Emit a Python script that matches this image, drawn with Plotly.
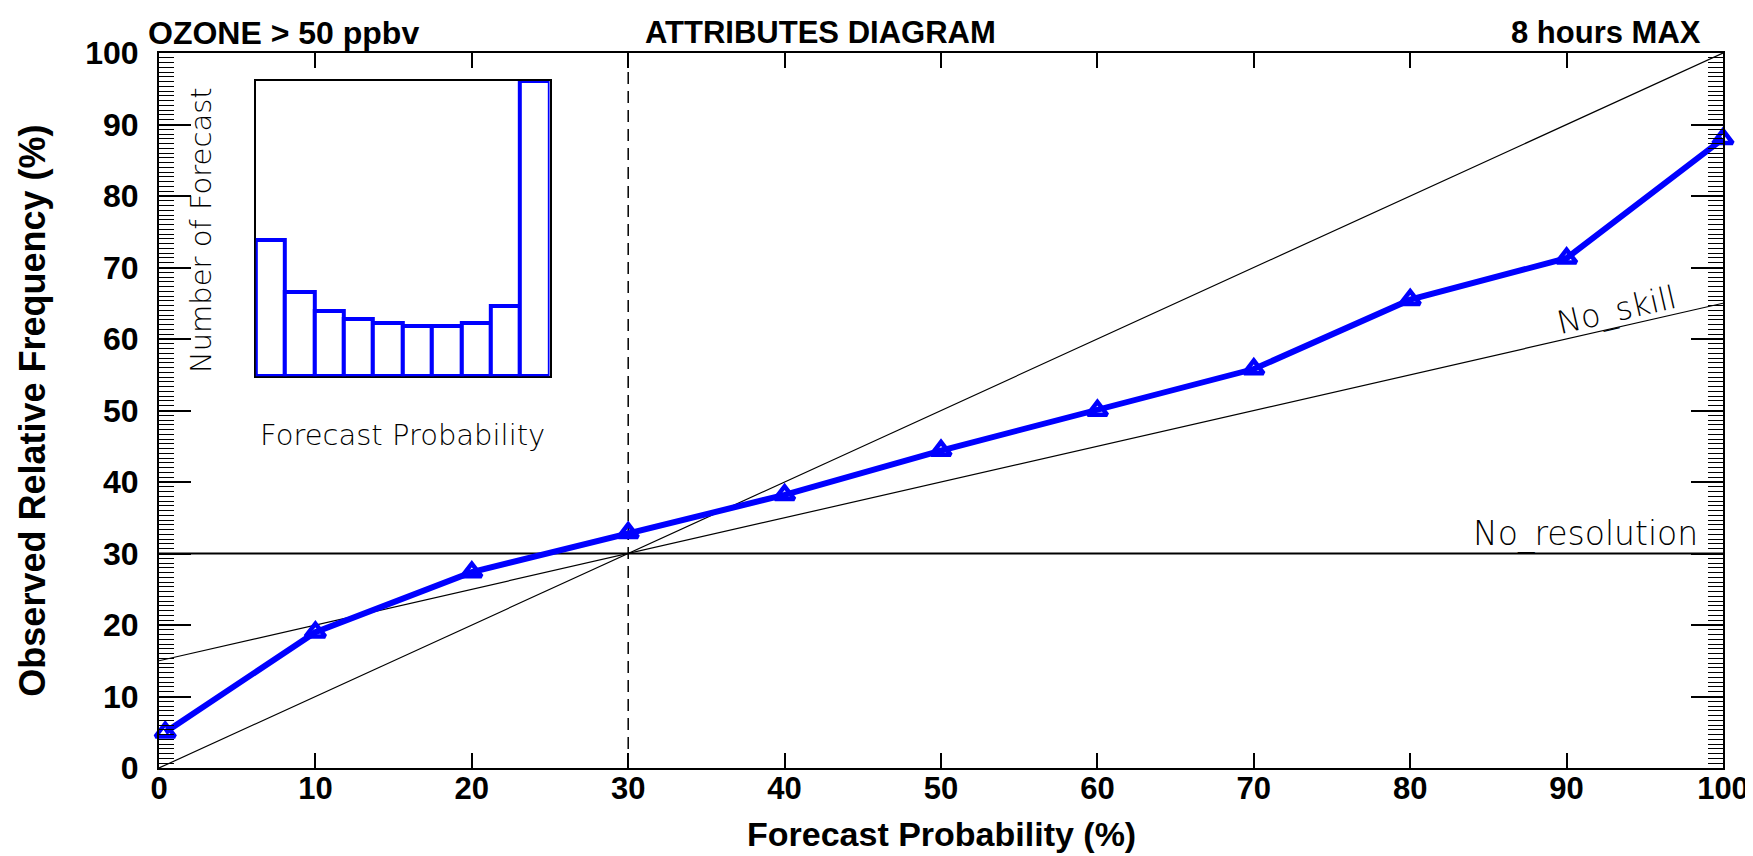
import plotly.graph_objects as go

# ---------------- data ----------------
fcst_prob = [0.4, 10, 20, 30, 40, 50, 60, 70, 80, 90, 100]
obs_freq = [5.0, 19.0, 27.4, 32.9, 38.2, 44.4, 50.0, 55.8, 65.5, 71.3, 88.0]

climatology = 30.0          # no-resolution level (%)
line_x = [0, 100]           # extent of reference lines

hist_bins = [0, 1, 2, 3, 4, 5, 6, 7, 8, 9]
hist_counts = [460, 286, 220, 195, 179, 170, 170, 179, 237, 1000]

x_ticks = [0, 10, 20, 30, 40, 50, 60, 70, 80, 90, 100]
y_ticks = [0, 10, 20, 30, 40, 50, 60, 70, 80, 90, 100]

# ---------------- style ----------------
BLUE = "#0000FF"
BOLD = dict(family="Liberation Sans, Arial, sans-serif", color="black", weight="bold")
THIN = dict(family="DejaVu Sans, sans-serif", color="black", weight=200)

fig = go.Figure()

# perfect reliability diagonal
fig.add_trace(go.Scatter(x=line_x, y=line_x, mode="lines",
                         line=dict(color="black", width=1.2), showlegend=False, hoverinfo="skip"))
# no-skill line (halfway between perfect reliability and climatology)
noskill_y = [(v + climatology) / 2 for v in line_x]
fig.add_trace(go.Scatter(x=line_x, y=noskill_y, mode="lines",
                         line=dict(color="black", width=1.2), showlegend=False, hoverinfo="skip"))
# no-resolution line
fig.add_trace(go.Scatter(x=line_x, y=[climatology, climatology], mode="lines",
                         line=dict(color="black", width=2), showlegend=False, hoverinfo="skip"))
# vertical dashed line at climatology
fig.add_trace(go.Scatter(x=[climatology, climatology], y=[0, 100], mode="lines",
                         line=dict(color="black", width=1.5, dash="12px,7px"),
                         showlegend=False, hoverinfo="skip"))
# reliability curve
fig.add_trace(go.Scatter(x=fcst_prob, y=obs_freq, mode="lines+markers",
                         line=dict(color=BLUE, width=6),
                         marker=dict(symbol="triangle-up-open", size=17, color=BLUE,
                                     line=dict(color=BLUE, width=4.5)),
                         cliponaxis=False, showlegend=False))

# inset histogram
fig.add_trace(go.Bar(x=hist_bins, y=hist_counts, width=1,
                     marker=dict(color="white", line=dict(color=BLUE, width=4)),
                     xaxis="x2", yaxis="y2", showlegend=False))

fig.update_layout(
    width=1753, height=856,
    margin=dict(l=151, r=36, t=45, b=96),
    paper_bgcolor="white", plot_bgcolor="white",
    showlegend=False,
    bargap=0,
    xaxis=dict(range=[0, 100], tickvals=x_ticks, ticktext=[str(v) for v in x_ticks],
               ticks="inside", ticklen=15, tickwidth=1.5, tickcolor="black",
               showline=True, linecolor="black", linewidth=2, mirror="ticks",
               showgrid=False, zeroline=False,
               tickfont=dict(size=31, **BOLD), ticklabelstandoff=-8),
    yaxis=dict(range=[0, 100], tickvals=y_ticks, ticktext=[str(v) for v in y_ticks],
               ticks="inside", ticklen=32, tickwidth=1.5, tickcolor="black",
               minor=dict(dtick=10 / 15, tick0=0, ticks="inside", ticklen=15,
                          tickwidth=1, tickcolor="black", showgrid=False),
               showline=True, linecolor="black", linewidth=2, mirror="ticks",
               showgrid=False, zeroline=False,
               tickfont=dict(size=32, **BOLD), ticklabelstandoff=12),
    xaxis2=dict(domain=[0.0619, 0.2497], anchor="y2", range=[-0.5, 9.5],
                showticklabels=False, ticks="", showgrid=False, zeroline=False,
                showline=True, linecolor="black", linewidth=1.5, mirror=True,
                layer="below traces"),
    yaxis2=dict(domain=[0.548, 0.961], anchor="x2", range=[0, 1000],
                showticklabels=False, ticks="", showgrid=False, zeroline=False,
                showline=True, linecolor="black", linewidth=1.5, mirror=True,
                layer="below traces"),
)

ann = []
# titles
ann.append(dict(text="OZONE > 50 ppbv", x=-0.008, y=1.028, xref="paper", yref="paper",
                xanchor="left", yanchor="middle", showarrow=False, font=dict(size=32, **BOLD)))
ann.append(dict(text="ATTRIBUTES DIAGRAM", x=0.4227, y=1.028, xref="paper", yref="paper",
                xanchor="center", yanchor="middle", showarrow=False, font=dict(size=31, **BOLD)))
ann.append(dict(text="8 hours MAX", x=0.987, y=1.028, xref="paper", yref="paper",
                xanchor="right", yanchor="middle", showarrow=False, font=dict(size=31, **BOLD)))
# axis titles
ann.append(dict(text="Forecast Probability (%)", x=0.5, y=-0.0923, xref="paper", yref="paper",
                xanchor="center", yanchor="middle", showarrow=False, font=dict(size=34, **BOLD)))
ann.append(dict(text="Observed Relative Frequency (%)", x=-0.0811, y=0.5, xref="paper", yref="paper",
                xanchor="center", yanchor="middle", textangle=-90, showarrow=False,
                font=dict(size=36, **BOLD)))
# line labels
ann.append(dict(text="No_resolution", x=98.5, y=climatology, xref="x", yref="y",
                xanchor="right", yanchor="bottom", yshift=-2, showarrow=False,
                font=dict(size=33, **THIN)))
ns_x = 93.2
ann.append(dict(text="No_skill", x=ns_x, y=(ns_x + climatology) / 2 + 2.4, xref="x", yref="y",
                xanchor="center", yanchor="middle", textangle=-12.9, showarrow=False,
                font=dict(size=32, **THIN)))
# inset labels
ann.append(dict(text="Forecast Probability", x=0.1558, y=0.4657, xref="paper", yref="paper",
                xanchor="center", yanchor="middle", showarrow=False, font=dict(size=29, **THIN)))
ann.append(dict(text="Number of Forecast", x=0.0268, y=0.7524, xref="paper", yref="paper",
                xanchor="center", yanchor="middle", textangle=-90, showarrow=False,
                font=dict(size=29, **THIN)))
fig.update_layout(annotations=ann)

fig.write_html("out.html")
